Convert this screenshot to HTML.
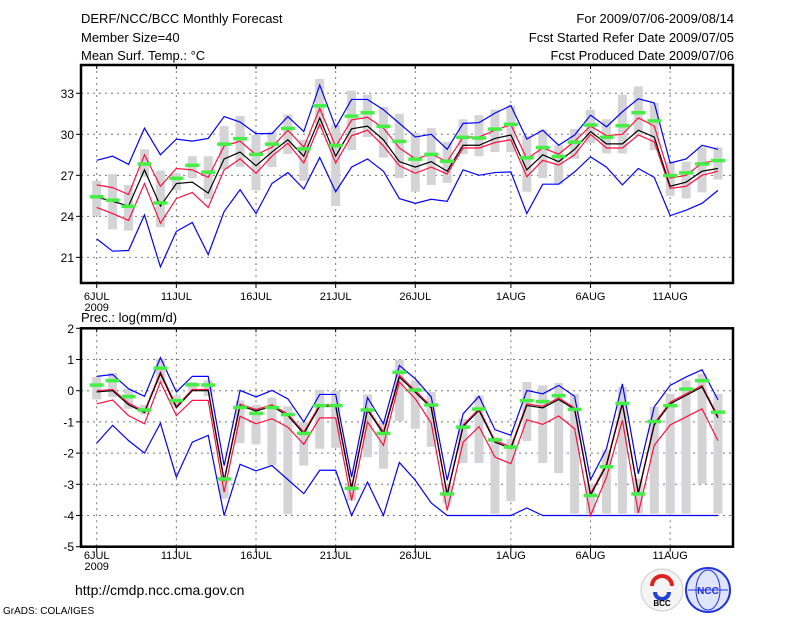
<!DOCTYPE html>
<html><head><meta charset="utf-8"><style>
html,body{margin:0;padding:0;background:#fff;}
svg{display:block;font-family:"Liberation Sans",sans-serif;}
</style></head><body>
<svg id="chart" width="800" height="618" viewBox="0 0 800 618">
<g font-size="13" fill="#000">
<text x="81" y="23">DERF/NCC/BCC Monthly Forecast</text>
<text x="81" y="42">Member Size=40</text>
<text x="81" y="60">Mean Surf. Temp.: °C</text>
<text x="734" y="23" text-anchor="end">For 2009/07/06-2009/08/14</text>
<text x="734" y="42" text-anchor="end">Fcst Started Refer Date 2009/07/05</text>
<text x="734" y="60" text-anchor="end">Fcst Produced Date 2009/07/06</text>
</g>
<text x="81" y="322" font-size="13">Prec.: log(mm/d)</text>
<text x="75" y="595" font-size="14">http://cmdp.ncc.cma.gov.cn</text>
<text x="3" y="614" font-size="10">GrADS: COLA/IGES</text>
<g>
<circle cx="662" cy="590" r="21" fill="#f4f4f4" stroke="#ccc"/>
<path d="M652 586 a10 10 0 1 1 20 0" fill="none" stroke="#d22" stroke-width="4"/>
<path d="M655 592 a7 7 0 0 0 14 0" fill="none" stroke="#2244cc" stroke-width="4"/>
<text x="662" y="606" font-size="8" text-anchor="middle" font-weight="bold">BCC</text>
</g>
<g>
<circle cx="708" cy="590" r="22" fill="#dfe4ff" stroke="#2233dd" stroke-width="2"/>
<ellipse cx="708" cy="590" rx="12" ry="20" fill="none" stroke="#2233dd"/>
<line x1="688" y1="590" x2="728" y2="590" stroke="#2233dd"/>
<text x="708" y="594" font-size="10" text-anchor="middle" fill="#2233dd" font-weight="bold">NCC</text>
</g>
</svg>
<script>
const days=[0,1,2,3,4,5,6,7,8,9,10,11,12,13,14,15,16,17,18,19,20,21,22,23,24,25,26,27,28,29,30,31,32,33,34,35,36,37,38,39];
const dateTicks=[0,5,10,15,20,26,31,36];
const dateLabels=["6JUL","11JUL","16JUL","21JUL","26JUL","1AUG","6AUG","11AUG"];
const tTicks=[21,24,27,30,33];
const pTicks=[2,1,0,-1,-2,-3,-4,-5];
// Temperature
const tBlue1=[28.1,28.4,27.8,30.45,28.5,29.65,29.5,29.7,31.3,30.9,30.05,30.05,31.3,30.2,33.6,30.5,32.55,32.55,31.8,30.8,29.8,30.0,28.9,30.8,30.85,31.55,32.1,29.65,30.3,29.2,29.95,31.4,30.55,31.65,32.6,32.3,27.9,28.2,29.2,28.9];
const tBlue2=[22.35,21.45,21.5,24.1,20.3,22.9,23.55,21.2,24.35,25.95,24.2,26.4,27.2,26.0,28.3,25.8,27.6,28.2,27.3,25.3,24.95,25.25,25.1,27.4,27.0,27.2,27.25,24.2,26.35,26.35,27.25,28.35,27.6,26.3,27.5,26.85,24.05,24.45,24.95,25.9];
const tRed1=[26.3,26.1,25.6,28.5,26.2,27.5,27.4,26.85,29.15,29.5,28.5,29.05,30.3,29.05,31.9,29.1,31.05,31.25,30.45,29.0,28.2,28.55,28.0,29.8,29.8,30.3,30.7,28.2,29.0,28.55,29.5,30.6,29.9,30.0,31.2,30.6,26.8,27.0,27.9,28.1];
const tRed2=[24.65,24.2,23.7,26.4,23.5,25.3,25.75,24.65,27.4,28.2,27.15,28.4,29.35,27.9,30.75,27.9,29.9,30.3,29.15,27.7,27.15,27.6,27.1,29.0,29.0,29.4,29.6,26.9,28.1,27.75,28.5,30.0,29.0,29.0,29.95,29.45,26.05,26.2,27.0,27.3];
const tMean=[25.4,25.1,24.75,27.4,24.75,26.4,26.5,25.7,28.2,28.7,27.7,28.7,29.6,28.4,31.2,28.4,30.4,30.6,29.6,28.0,27.6,28.0,27.3,29.2,29.2,29.7,29.95,27.4,28.5,28.0,28.9,30.2,29.3,29.3,30.3,29.8,26.2,26.5,27.3,27.5];
const tGreen=[25.45,25.2,24.75,27.85,25.0,26.8,27.75,27.25,29.3,29.7,28.55,29.3,30.45,28.95,32.1,29.2,31.35,31.6,30.6,29.5,28.2,28.55,28.05,29.8,29.75,30.4,30.75,28.3,29.05,28.4,29.45,30.7,29.8,30.65,31.6,31.0,27.0,27.2,27.85,28.1];
const tBarHi=[26.6,27.1,26.3,28.9,27.35,27.15,28.4,28.4,30.6,31.35,29.95,30.2,31.45,29.6,34.05,30.7,33.2,32.9,32.0,31.5,30.1,30.45,29.45,31.1,31.4,31.8,32.1,29.9,30.35,29.2,30.4,31.8,31.1,32.9,33.5,32.3,28.0,28.0,29.05,29.05];
const tBarLo=[24.05,23.05,22.95,26.9,23.2,25.9,26.8,25.25,27.45,27.6,25.9,27.6,28.55,26.6,30.35,24.75,28.85,29.8,28.3,26.8,25.8,26.3,26.45,28.55,28.4,28.7,28.7,25.8,26.8,26.35,28.2,29.35,28.6,28.6,29.9,28.85,25.5,25.3,25.75,26.7];
// Precip
const pBlue1=[0.46,0.52,0.06,-0.18,1.06,-0.04,0.46,0.46,-2.4,0.01,-0.2,0.01,-0.26,-1.0,-0.12,-0.12,-2.77,-0.22,-1.06,0.81,0.38,-0.2,-2.87,-0.74,-0.18,-1.25,-1.43,0.01,-0.1,0.17,-0.18,-2.85,-1.86,0.22,-2.66,-0.52,0.17,0.44,0.67,-0.29];
const pBlue2=[-1.68,-1.11,-1.6,-2.0,-1.04,-2.77,-1.65,-1.43,-4.0,-2.36,-2.57,-2.4,-2.85,-3.3,-2.55,-2.55,-4.0,-2.93,-4.0,-2.3,-2.87,-3.6,-4,-4,-4,-4,-4,-3.76,-4,-4,-4,-4,-4,-4,-4,-4,-4,-4,-4,-4];
const pRed1=[0.0,0.04,-0.4,-0.66,0.6,-0.5,0.04,0.04,-2.85,-0.43,-0.6,-0.45,-0.75,-1.33,-0.45,-0.45,-3.1,-0.57,-1.33,0.5,0.0,-0.5,-3.3,-1.1,-0.58,-1.6,-1.8,-0.42,-0.5,-0.23,-0.55,-3.3,-2.35,-0.37,-3.25,-1.05,-0.37,-0.1,0.17,-0.82];
const pRed2=[-0.42,-0.3,-0.8,-1.06,0.28,-0.8,-0.31,-0.31,-3.25,-0.82,-1.06,-0.9,-1.17,-1.72,-0.87,-0.87,-3.52,-1.0,-1.75,0.28,-0.26,-1.04,-3.84,-1.65,-1.15,-2.13,-2.34,-0.93,-1.08,-0.81,-1.22,-4.0,-2.77,-0.95,-3.92,-1.75,-1.1,-0.84,-0.58,-1.6];
const pMean=[-0.04,0.0,-0.45,-0.7,0.55,-0.55,0.0,0.0,-2.9,-0.48,-0.65,-0.5,-0.8,-1.38,-0.5,-0.5,-3.15,-0.62,-1.38,0.44,-0.05,-0.55,-3.35,-1.15,-0.63,-1.65,-1.85,-0.47,-0.55,-0.28,-0.6,-3.35,-2.4,-0.42,-3.3,-1.1,-0.42,-0.15,0.12,-0.87];
const pGreen=[0.19,0.33,-0.18,-0.61,0.73,-0.31,0.2,0.19,-2.82,-0.53,-0.72,-0.53,-0.76,-1.36,-0.47,-0.47,-3.12,-0.61,-1.36,0.6,0.03,-0.45,-3.3,-1.16,-0.58,-1.57,-1.8,-0.31,-0.34,-0.15,-0.59,-3.35,-2.43,-0.4,-3.3,-0.98,-0.47,0.06,0.33,-0.68];
const pBarHi=[0.44,0.57,0.06,-0.45,1.03,-0.15,0.28,0.33,-2.77,-0.31,-0.45,-0.22,-0.5,-1.0,0.03,-0.01,-2.98,-0.12,-0.95,1.0,0.33,-0.04,-3.03,-0.9,-0.15,-1.49,-1.54,0.28,0.17,0.25,-0.1,-2.98,-1.91,0.12,-2.82,-0.52,-0.1,0.33,0.54,-0.1];
const pBarLo=[-0.28,-0.2,-0.58,-0.77,0.22,-0.47,-0.01,-0.18,-3.46,-1.68,-1.72,-2.4,-3.96,-2.4,-1.86,-1.83,-3.52,-2.13,-2.5,-0.97,-1.22,-1.8,-3.62,-2.32,-2.32,-3.94,-3.54,-1.61,-2.32,-2.64,-3.94,-3.94,-3.94,-3.94,-3.94,-3.94,-3.94,-3.94,-2.98,-3.94];

const NS='http://www.w3.org/2000/svg';
const svg=document.getElementById('chart');
const X0=81,X1=733;
function xs(d){return 96.7+d*15.93;}
function mk(tag,attrs,parent){const e=document.createElementNS(NS,tag);for(const k in attrs)e.setAttribute(k,attrs[k]);(parent||svg).appendChild(e);return e;}

function panel(name,top,bot,ys,ticks,labelY,series){
  const g=mk('g',{});
  
  
  // grid
  ticks.forEach(t=>{const y=ys(t);if(y>top+1&&y<bot-1){const l=mk('line',{x1:X0,x2:X1,y1:y,y2:y,stroke:'#777','stroke-dasharray':'2,4','stroke-width':1},g);}
    const tl=mk('line',{x1:X0-5,x2:X0,y1:y,y2:y,stroke:'#000'},g);
    const tx=mk('text',{x:X0-7,y:y+4.5,'font-size':12,'text-anchor':'end'},g);tx.textContent=t;});
  dateTicks.forEach((d,i)=>{const x=xs(d);
    const l=mk('line',{x1:x,x2:x,y1:top,y2:bot,stroke:'#777','stroke-dasharray':'2,4'},g);
    const t1=mk('line',{x1:x,x2:x,y1:bot,y2:bot+5,stroke:'#000'},g);
    const t2=mk('line',{x1:x,x2:x,y1:top,y2:top+4,stroke:'#000'},g);
    const tx=mk('text',{x:x,y:labelY,'font-size':11,'text-anchor':'middle'},g);tx.textContent=dateLabels[i];});
  const yr=mk('text',{x:xs(0),y:labelY+11,'font-size':11,'text-anchor':'middle'},g);yr.textContent='2009';
  // bars
  days.forEach(d=>{const y1=ys(series.hi[d]),y2=ys(series.lo[d]);
    const r=mk('rect',{x:xs(d)-4.5,y:y1,width:9,height:Math.max(1,y2-y1),fill:'#d4d4d6'},g);});
  const line=(arr,col,w,nm)=>{const p=mk('polyline',{points:days.map(d=>xs(d)+','+ys(arr[d])).join(' '),fill:'none',stroke:col,'stroke-width':w},g);};
  line(series.b2,'#0000ff',1.2,'blue-lower-line');
  line(series.b1,'#0000ff',1.2,'blue-upper-line');
  line(series.r2,'#ff1040',1.2,'red-lower-line');
  line(series.r1,'#ff1040',1.2,'red-upper-line');
  line(series.m,'#000',1.2,'ensemble-mean-line');
  days.forEach(d=>{const r=mk('rect',{x:xs(d)-7,y:ys(series.g[d])-1.5,width:14,height:3.5,fill:'#44ee44'},g);});
  const f=mk('rect',{x:X0,y:top,width:X1-X0,height:bot-top,fill:'none',stroke:'#000','stroke-width':2.5},g);
}
panel('temperature',65,283,v=>93.3+(33-v)*13.67,tTicks,300,{hi:tBarHi,lo:tBarLo,b1:tBlue1,b2:tBlue2,r1:tRed1,r2:tRed2,m:tMean,g:tGreen});
panel('precipitation',328.3,546.7,v=>390.7-v*31.2,pTicks,559,{hi:pBarHi,lo:pBarLo,b1:pBlue1,b2:pBlue2,r1:pRed1,r2:pRed2,m:pMean,g:pGreen});
</script>
</body></html>
